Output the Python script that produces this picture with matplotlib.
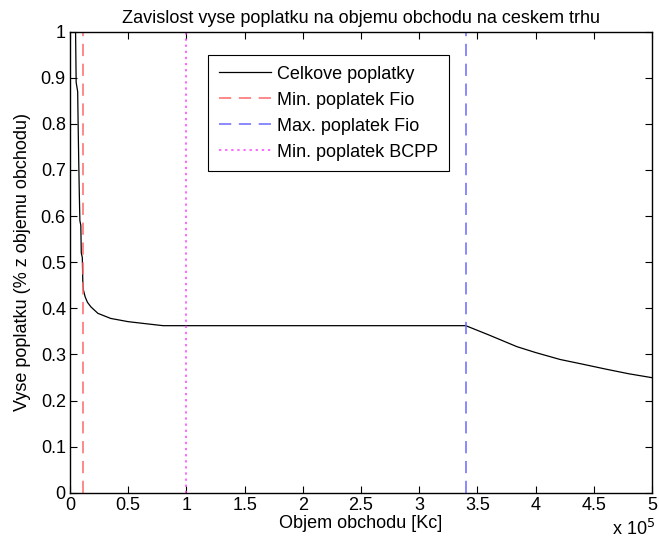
import matplotlib.pyplot as plt
from matplotlib.ticker import FuncFormatter, MultipleLocator

plt.rcParams['font.family'] = ['Liberation Sans', 'DejaVu Sans']
plt.rcParams['font.size'] = 13

# objem obchodu [Kc] a celkove poplatky [% z objemu]
objem = [4800, 5300, 6600, 7000, 7500, 8000, 8500, 9300, 9700, 10600, 11000,
         11500, 13000, 15000, 18000, 24000, 35000, 50000, 65000, 80000, 340000,
         360000, 384000, 400000, 421000, 440000, 461000, 480000, 500000]
poplatky = [1.0, 0.89, 0.87, 0.80, 0.72, 0.65, 0.59, 0.58, 0.52, 0.51, 0.46,
            0.44, 0.425, 0.413, 0.403, 0.389, 0.378, 0.371, 0.3666, 0.3623, 0.3623,
            0.342, 0.3167, 0.304, 0.289, 0.279, 0.2677, 0.258, 0.2495]

fio_min = 11000
fio_max = 340000
bcpp_min = 100000

fig = plt.figure(figsize=(6.59, 5.48), dpi=100)
ax = fig.add_axes([0.1062, 0.1009, 0.8832, 0.8413])

ax.plot(objem, poplatky, color='black', lw=0.9, label='Celkove poplatky')
ax.axvline(fio_min, color='#ff6a6a', lw=1.1, dashes=(8, 5), label='Min. poplatek Fio')
ax.axvline(fio_max, color='#6a6aff', lw=1.1, dashes=(8, 5), label='Max. poplatek Fio')
ax.axvline(bcpp_min, color='#ff40ff', lw=1.1, dashes=(1.5, 2.5), label='Min. poplatek BCPP')

ax.set_xlim(0, 500000)
ax.set_ylim(0, 1)
ax.xaxis.set_major_locator(MultipleLocator(50000))
ax.yaxis.set_major_locator(MultipleLocator(0.1))
ax.xaxis.set_major_formatter(FuncFormatter(lambda v, p: '%g' % (v / 1e5)))
ax.yaxis.set_major_formatter(FuncFormatter(lambda v, p: '%g' % round(v, 1)))
ax.tick_params(direction='in', top=True, right=True, length=5, width=0.8, pad=3)
for s in ax.spines.values():
    s.set_linewidth(1.0)

ax.text(1.006, -0.078, r'x 10$^{5}$', transform=ax.transAxes, ha='right', va='center')
ax.set_title('Zavislost vyse poplatku na objemu obchodu na ceskem trhu', fontsize=13, pad=6)
ax.set_xlabel('Objem obchodu [Kc]', labelpad=1)
ax.set_ylabel('Vyse poplatku (% z objemu obchodu)', labelpad=7)

leg = ax.legend(loc='upper left', bbox_to_anchor=(0.237, 0.95), fancybox=False,
                edgecolor='black', framealpha=1, borderpad=0.6, handlelength=2.9,
                handletextpad=0.35, labelspacing=0.5, borderaxespad=0)
leg.get_frame().set_linewidth(0.8)

fig.savefig('out.png', dpi=100)
